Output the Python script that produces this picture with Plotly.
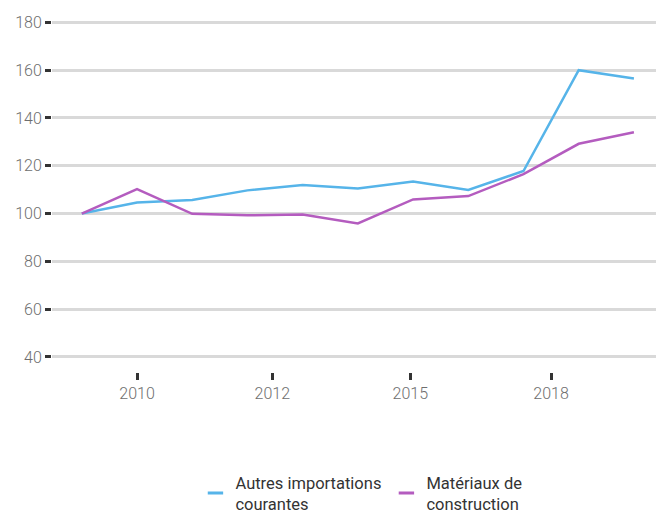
import plotly.graph_objects as go

years = [2009, 2010, 2011, 2012, 2013, 2014, 2015, 2016, 2017, 2018, 2019]
autres = [100.0, 104.6, 105.7, 109.7, 112.0, 110.5, 113.4, 109.9, 117.8, 160.0, 156.5]
materiaux = [100.0, 110.2, 99.9, 99.3, 99.6, 95.9, 105.9, 107.3, 116.5, 129.2, 134.0]
names = ["Autres importations<br>courantes", "Matériaux de<br>construction"]
colors = ["#56b4e9", "#b45cbf"]
x_tickvals = [2010, 2012.45, 2014.95, 2017.5]
x_ticktext = ["2010", "2012", "2015", "2018"]
y_tickvals = [40, 60, 80, 100, 120, 140, 160, 180]

fig = go.Figure()
for series, name, color in zip([autres, materiaux], names, colors):
    fig.add_trace(go.Scatter(x=years, y=series, mode="lines", name=name,
                             line=dict(color=color, width=2.5), showlegend=False))
    fig.add_trace(go.Scatter(x=[None], y=[None], mode="markers", name=name,
                             marker=dict(symbol="line-ew-open", size=11, color=color,
                                         line=dict(color=color, width=3))))

fig.update_layout(
    width=656, height=514,
    margin=dict(l=52, r=0, t=20, b=142, autoexpand=False),
    paper_bgcolor="white", plot_bgcolor="white",
    font=dict(family="Roboto", color="#6e6e6e", size=16, weight=300),
    legend=dict(orientation="h", xref="container", yref="container",
                x=0.551, xanchor="center", y=0.095, yanchor="top",
                font=dict(color="#333333", size=16.5, weight=400), itemwidth=30,
                tracegroupgap=0),
    xaxis=dict(range=[2008.46, 2019.4], tickvals=x_tickvals, ticktext=x_ticktext,
               showgrid=False, zeroline=False, showline=False, automargin=False,
               ticks="outside", ticklen=7, tickwidth=2.5, tickcolor="#333333"),
    yaxis=dict(range=[33.7, 181], tickvals=y_tickvals, showgrid=True, automargin=False,
               gridcolor="#d9d9d9", gridwidth=2.5, zeroline=False, showline=False,
               ticks="outside", ticklen=6, tickwidth=3, tickcolor="#333333"),
)

fig.write_html("out.html", config={"displayModeBar": False},
               post_script="document.body.style.margin='0';")
